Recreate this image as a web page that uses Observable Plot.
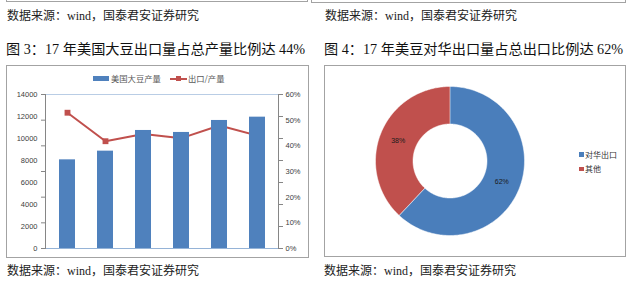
<!DOCTYPE html>
<html><head><meta charset="utf-8">
<script src="https://cdn.jsdelivr.net/npm/d3@7"></script>
<script src="https://cdn.jsdelivr.net/npm/@observablehq/plot@0.6"></script>
<style>
body{margin:0;background:#fff;}
#root{position:relative;width:629px;height:281px;overflow:hidden;font-family:"Liberation Serif","Noto Sans CJK SC",serif;color:#1a1a1a;}
.abs{position:absolute;}
.frame{position:absolute;border:1px solid #a3a3a3;box-sizing:border-box;}
.cap{position:absolute;font-size:12px;line-height:12px;white-space:nowrap;color:#222;}
.title{position:absolute;font-size:14.2px;line-height:14.2px;white-space:nowrap;color:#111;}
.lg{position:absolute;font-family:"Noto Sans CJK SC",sans-serif;font-size:8.3px;line-height:8.3px;color:#595959;white-space:nowrap;}
.chart{position:absolute;}
</style></head>
<body>
<div id="root">
  <div class="frame" style="left:6px;top:-20px;width:302px;height:22px;"></div>
  <div class="frame" style="left:311px;top:-20px;width:315px;height:23px;"></div>
  <div class="cap" style="left:7px;top:9.5px;">数据来源：wind，国泰君安证券研究</div>
  <div class="cap" style="left:325px;top:9.5px;">数据来源：wind，国泰君安证券研究</div>
  <div class="title" id="t3" style="left:6px;top:42px;"></div>
  <div class="title" id="t4" style="left:324px;top:42px;"></div>
  <div class="frame" style="left:6px;top:65px;width:303px;height:193px;"></div>
  <div class="frame" style="left:324px;top:65px;width:302px;height:192px;"></div>
  <div class="chart" id="lineChart" style="left:6px;top:66px;"></div>
  <div class="chart" id="barChart" style="left:6px;top:66px;"></div>
  <div class="chart" id="donutChart" style="left:325px;top:66px;"></div>
  <div id="legendL"></div>
  <div id="legendR"></div>
  <div class="cap" style="left:7px;top:264.5px;">数据来源：wind，国泰君安证券研究</div>
  <div class="cap" style="left:324px;top:265px;">数据来源：wind，国泰君安证券研究</div>
</div>
<script>
// ---- data ----
const titles = ["图 3：17 年美国大豆出口量占总产量比例达 44%", "图 4：17 年美豆对华出口量占总出口比例达 62%"];
const years = ["2012", "2013", "2014", "2015", "2016", "2017"];
const production = [8060, 8850, 10730, 10550, 11640, 11940];
const exportRatio = [0.529, 0.418, 0.446, 0.430, 0.479, 0.440];
const seriesNames = ["美国大豆产量", "出口/产量"];
const leftTicks = [0, 2000, 4000, 6000, 8000, 10000, 12000, 14000];
const rightTicks = [0, 0.1, 0.2, 0.3, 0.4, 0.5, 0.6];
const donutLabels = ["对华出口", "其他"];
const donutShares = [0.62, 0.38];
const barColor = "#4f81bd";
const lineColor = "#c0504d";
const donutColors = ["#4a7ebb", "#c0504d"];

document.getElementById("t3").textContent = titles[0];
document.getElementById("t4").textContent = titles[1];

const table = years.map((y, i) => ({year: y, prod: production[i], ratio: exportRatio[i]}));
const dims = {width: 300, height: 190, marginLeft: 39, marginRight: 28, marginTop: 28, marginBottom: 8};
const baseStyle = {background: "transparent", fontFamily: "'Liberation Sans', Arial, sans-serif", fontSize: "7.5px", color: "#404040", overflow: "visible"};

// line (under the bars) with right-hand percentage axis
const linePlot = Plot.plot({
  ...dims,
  style: baseStyle,
  x: {type: "point", domain: years, padding: 0.5, axis: null},
  y: {domain: [0, 0.6], axis: null},
  marks: [
    Plot.line(table, {x: "year", y: "ratio", stroke: lineColor, strokeWidth: 2}),
    Plot.dot(table, {x: "year", y: "ratio", symbol: "square", fill: lineColor, stroke: "none", r: 3.3}),
    Plot.axisY(rightTicks, {anchor: "right", label: null, tickSize: 0, tickPadding: 7, tickFormat: d => Math.round(d * 100) + "%"}),
    Plot.axisY(rightTicks, {anchor: "left", label: null, tickSize: 4, stroke: "#868686", tickFormat: () => ""})
  ]
});
document.getElementById("lineChart").append(linePlot);

// bars with left-hand axis
const barPlot = Plot.plot({
  ...dims,
  style: baseStyle,
  x: {type: "band", domain: years, paddingInner: 0.59, paddingOuter: 0.295, axis: null},
  y: {domain: [0, 14000], axis: null},
  marks: [
    Plot.barY(table, {x: "year", y: "prod", fill: barColor}),
    Plot.axisY(leftTicks, {anchor: "left", label: null, tickSize: 0, tickPadding: 8, tickFormat: d => String(d)}),
    Plot.axisY(leftTicks, {anchor: "right", label: null, tickSize: 4, stroke: "#868686", tickFormat: () => ""}),
    Plot.frame({anchor: "top", stroke: "#b9cde5"}),
    Plot.frame({anchor: "bottom", stroke: "#95b3d7"}),
    Plot.frame({anchor: "left", stroke: "#868686"}),
    Plot.frame({anchor: "right", stroke: "#868686"})
  ]
});
document.getElementById("barChart").append(barPlot);

// donut
const innerRatio = 37 / 74.5;
let acc = 0;
const slices = donutLabels.map((name, i) => {
  const s = {name, share: donutShares[i], a0: acc * 2 * Math.PI, a1: (acc + donutShares[i]) * 2 * Math.PI};
  acc += donutShares[i];
  return s;
});
const ring = [];
for (const s of slices) {
  const n = Math.max(2, Math.ceil((s.a1 - s.a0) / (Math.PI / 180)));
  for (let k = 0; k <= n; k++) { const a = s.a0 + (s.a1 - s.a0) * k / n; ring.push({name: s.name, x: Math.sin(a), y: -Math.cos(a)}); }
  for (let k = n; k >= 0; k--) { const a = s.a0 + (s.a1 - s.a0) * k / n; ring.push({name: s.name, x: innerRatio * Math.sin(a), y: -innerRatio * Math.cos(a)}); }
}
const midR = (1 + innerRatio) / 2;
const cx = 124.5, cy = 94.5, R = 74.5;
const donutPlot = Plot.plot({
  width: 299, height: 190, margin: 0,
  style: {...baseStyle, fontSize: "7px", color: "#1a1a1a"},
  x: {domain: [-1, 1], range: [cx - R, cx + R], axis: null},
  y: {domain: [-1, 1], range: [cy - R, cy + R], axis: null},
  color: {domain: donutLabels, range: donutColors},
  marks: [
    Plot.line(ring, {x: "x", y: "y", z: "name", fill: "name", stroke: "white", strokeWidth: 0.5, curve: "linear-closed"}),
    Plot.text(slices, {
      x: d => midR * Math.sin((d.a0 + d.a1) / 2),
      y: d => -midR * Math.cos((d.a0 + d.a1) / 2),
      text: d => Math.round(d.share * 100) + "%",
      fill: "#1a1a1a"
    })
  ]
});
document.getElementById("donutChart").append(donutPlot);

// legends (HTML)
const lL = document.getElementById("legendL");
lL.innerHTML =
  `<div class="abs" style="left:93px;top:75.5px;width:16px;height:5.5px;background:${barColor}"></div>` +
  `<div class="lg" style="left:111px;top:74px;">${seriesNames[0]}</div>` +
  `<div class="abs" style="left:170px;top:77.5px;width:17px;height:2px;background:${lineColor}"></div>` +
  `<div class="abs" style="left:176px;top:76px;width:5px;height:5px;background:${lineColor}"></div>` +
  `<div class="lg" style="left:188px;top:74px;">${seriesNames[1]}</div>`;
const lR = document.getElementById("legendR");
lR.innerHTML = donutLabels.map((n, i) =>
  `<div class="abs" style="left:579px;top:${152 + i * 14.7}px;width:4.5px;height:4.5px;background:${donutColors[i]}"></div>` +
  `<div class="lg" style="left:585px;top:${150.5 + i * 14.7}px;font-size:8px;line-height:8px;color:#333;">${n}</div>`
).join("");
</script>
</body></html>
